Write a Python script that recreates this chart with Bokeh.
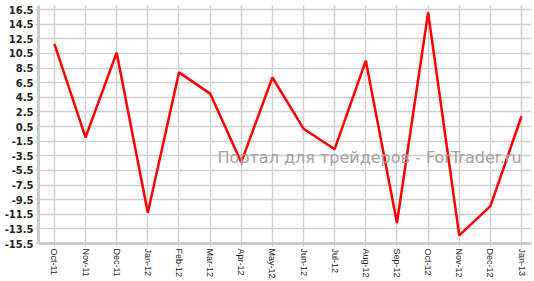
from bokeh.plotting import figure
from bokeh.models import FixedTicker, Label
from bokeh.embed import file_html
from bokeh.resources import INLINE

months = ["Oct-11", "Nov-11", "Dec-11", "Jan-12", "Feb-12", "Mar-12", "Apr-12", "May-12",
          "Jun-12", "Jul-12", "Aug-12", "Sep-12", "Oct-12", "Nov-12", "Dec-12", "Jan-13"]
values = [11.8, -1.0, 10.6, -11.3, 7.9, 5.0, -4.4, 7.2,
          0.2, -2.6, 9.5, -12.7, 16.1, -14.4, -10.4, 1.9]
y_ticks = [-15.5 + 2 * i for i in range(17)]

xs = list(range(len(months)))

p = figure(width=534, height=281, output_backend="svg", toolbar_location=None,
           x_range=(-0.51, len(months) - 1 + 0.32), y_range=(-15.5, 17.05),
           min_border_left=38, min_border_right=3, min_border_top=5, min_border_bottom=38)
p.outline_line_color = None
p.background_fill_color = "white"

p.line(xs, values, line_color="#ff0000", line_width=2.5)

p.xaxis.ticker = FixedTicker(ticks=xs)
p.xaxis.major_label_overrides = {i: m for i, m in enumerate(months)}
p.xaxis.major_label_orientation = "vertical"
p.yaxis.ticker = FixedTicker(ticks=y_ticks)
p.yaxis.major_label_overrides = {t: ("%g" % t) if abs(t) >= 1 else ("%.1f" % t) for t in y_ticks}

for ax in (p.xaxis[0], p.yaxis[0]):
    ax.axis_line_color = "#cccccc"
    ax.axis_line_width = 3
    ax.major_tick_line_color = "#cccccc"
    ax.major_tick_out = 3
    ax.major_tick_in = 0
    ax.minor_tick_line_color = None
    ax.major_label_standoff = 2

p.yaxis.major_label_text_font = "DejaVu Sans"
p.yaxis.major_label_text_font_style = "bold"
p.yaxis.major_label_text_font_size = "10px"
p.yaxis.major_label_text_color = "#222222"
p.xaxis.major_label_text_font = "Liberation Sans"
p.xaxis.major_label_text_font_size = "9px"
p.xaxis.major_label_text_color = "#222222"

p.xgrid.ticker = FixedTicker(ticks=xs)
p.ygrid.ticker = FixedTicker(ticks=y_ticks)
p.grid.grid_line_color = "#d0d0d0"
p.grid.grid_line_width = 1.5

wm = Label(x=5.24, y=-3.74,
           text="Портал для трейдеров - ForTrader.ru", text_font="DejaVu Sans",
           text_font_size="16px", text_color="#a8a0a0", text_baseline="alphabetic")
p.add_layout(wm)

open("out.html", "w").write(file_html(p, INLINE))
